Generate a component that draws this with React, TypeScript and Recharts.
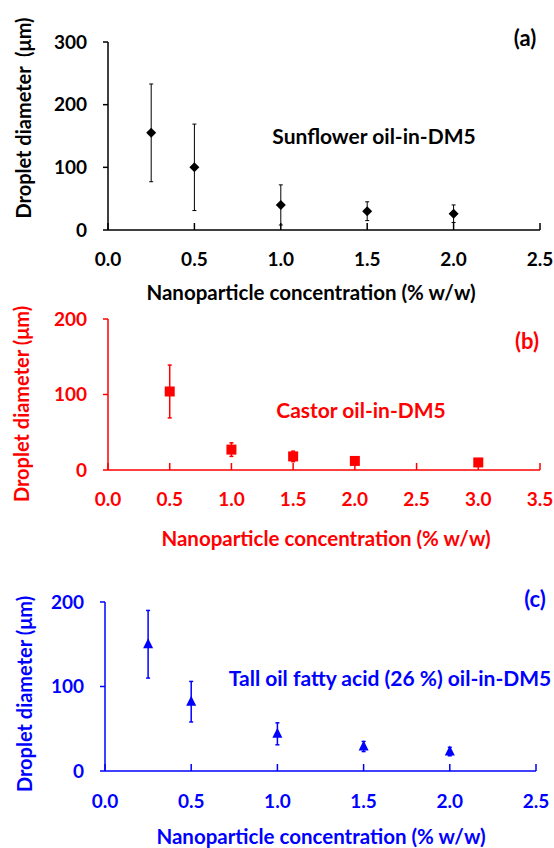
import { ScatterChart, Scatter, XAxis, YAxis, ErrorBar } from 'recharts';

// (a) sunflower oil-in-DM5
const concA = [0.25, 0.5, 1.0, 1.5, 2.0];
const diamA = [155, 100, 40, 30, 26];
const errA = [78, 69, 32, 15, 14];

// (b) castor oil-in-DM5
const concB = [0.5, 1.0, 1.5, 2.0, 3.0];
const diamB = [104, 27, 18, 12, 10];
const errB = [35, 9, 7, 3, 2];

// (c) tall oil fatty acid oil-in-DM5
const concC = [0.25, 0.5, 1.0, 1.5, 2.0];
const diamC = [150, 82, 44, 29, 23];
const errC = [40, 24, 13, 6, 5];

const xTicksA = [0, 0.5, 1.0, 1.5, 2.0, 2.5];
const xTicksB = [0, 0.5, 1.0, 1.5, 2.0, 2.5, 3.0, 3.5];
const yTicksA = [0, 100, 200, 300];
const yTicksBC = [0, 100, 200];

const FONT = 'Lato, "Open Sans", sans-serif';

type Shape = 'diamond' | 'square' | 'triangle';

function marker(kind: Shape, color: string) {
  return (p: any) => {
    const { cx, cy } = p;
    if (kind === 'square') return <rect x={cx - 5} y={cy - 5} width={10} height={10} fill={color} />;
    if (kind === 'triangle')
      return <polygon points={`${cx},${cy - 6} ${cx + 5},${cy + 4} ${cx - 5},${cy + 4}`} fill={color} />;
    return <polygon points={`${cx},${cy - 5} ${cx + 5},${cy} ${cx},${cy + 5} ${cx - 5},${cy}`} fill={color} />;
  };
}

interface PanelProps {
  top: number;
  height: number;
  margin: { top: number; right: number; bottom: number; left: number };
  yWidth: number;
  conc: number[];
  diam: number[];
  err: number[];
  color: string;
  errWidth: number;
  shape: Shape;
  xTicks: number[];
  yTicks: number[];
  yTitle: string;
  yTitlePos: [number, number];
  xTitlePos: [number, number];
  tickLabelGap: number;
  tag: string;
  tagPos: [number, number];
  note: string;
  notePos: [number, number];
}

function Panel(p: PanelProps) {
  const data = p.conc.map((c, i) => ({ conc: c, diam: p.diam[i], err: p.err[i] }));
  const txt = { fill: p.color, fontSize: 19, fontWeight: 700, fontFamily: FONT };
  const [ytx, yty] = p.yTitlePos;

  const xTick = (t: any) => (
    <g>
      <line x1={t.x} x2={t.x} y1={t.y - 7} y2={t.y} stroke={p.color} strokeWidth={1.5} />
      <text x={t.x} y={t.y + p.tickLabelGap} textAnchor="middle" dominantBaseline="central" {...txt}>
        {Number(t.payload.value).toFixed(1)}
      </text>
    </g>
  );

  return (
    <div style={{ position: 'absolute', left: 0, top: p.top, width: 554, height: p.height }}>
      <ScatterChart width={554} height={p.height} margin={p.margin}>
        <XAxis
          type="number"
          dataKey="conc"
          domain={[p.xTicks[0], p.xTicks[p.xTicks.length - 1]]}
          ticks={p.xTicks}
          interval={0}
          height={40}
          tickSize={0}
          tickMargin={0}
          tickLine={false}
          tick={xTick}
          axisLine={{ stroke: p.color, strokeWidth: 1.5 }}
          label={() => (
            <text x={p.xTitlePos[0]} y={p.xTitlePos[1]} textAnchor="middle" dominantBaseline="central" {...txt} fontSize={20.5}>
              Nanoparticle concentration (% w/w)
            </text>
          )}
        />
        <YAxis
          type="number"
          dataKey="diam"
          domain={[p.yTicks[0], p.yTicks[p.yTicks.length - 1]]}
          ticks={p.yTicks}
          interval={0}
          width={p.yWidth}
          tickSize={5}
          tickMargin={16}
          tick={txt}
          tickLine={{ stroke: p.color, strokeWidth: 1.5 }}
          axisLine={{ stroke: p.color, strokeWidth: 1.5 }}
          label={() => (
            <text
              x={ytx}
              y={yty}
              textAnchor="middle"
              dominantBaseline="central"
              transform={`rotate(-90 ${ytx} ${yty})`}
              {...txt}
              fontSize={20}
              style={{ whiteSpace: 'pre' }}
            >
              {p.yTitle}
            </text>
          )}
        />
        <Scatter data={data} shape={marker(p.shape, p.color)} isAnimationActive={false}>
          <ErrorBar dataKey="err" direction="y" width={2} stroke={p.color} strokeWidth={p.errWidth} isAnimationActive={false} />
        </Scatter>
      </ScatterChart>
      <div
        style={{
          position: 'absolute', left: p.tagPos[0], top: p.tagPos[1], transform: 'translate(-50%, -50%)',
          color: p.color, fontFamily: FONT, fontWeight: 700, fontSize: 22, whiteSpace: 'nowrap',
        }}
      >
        {p.tag}
      </div>
      <div
        style={{
          position: 'absolute', left: p.notePos[0], top: p.notePos[1], transform: 'translate(-50%, -50%)',
          color: p.color, fontFamily: FONT, fontWeight: 700, fontSize: 21, whiteSpace: 'nowrap',
        }}
      >
        {p.note}
      </div>
    </div>
  );
}

export default function App() {
  return (
    <div style={{ position: 'absolute', left: 0, top: 0, width: 554, height: 848, background: '#fff', overflow: 'hidden' }}>
      <Panel
        top={0} height={310} margin={{ top: 42, right: 14, bottom: 40, left: 0 }} yWidth={108}
        conc={concA} diam={diamA} err={errA} color="#000000" errWidth={1} shape="diamond"
        xTicks={xTicksA} yTicks={yTicksA}
        yTitle={'Droplet diameter  (\u03bcm)'} yTitlePos={[23, 118]} xTitlePos={[311, 292]} tickLabelGap={28}
        tag="(a)" tagPos={[525, 37]} note="Sunflower oil-in-DM5" notePos={[374, 135]}
      />
      <Panel
        top={290} height={270} margin={{ top: 29, right: 14, bottom: 50, left: 0 }} yWidth={108}
        conc={concB} diam={diamB} err={errB} color="#ff0000" errWidth={1.5} shape="square"
        xTicks={xTicksB} yTicks={yTicksBC}
        yTitle={'Droplet diameter (\u03bcm)'} yTitlePos={[21, 114]} xTitlePos={[326, 248]} tickLabelGap={28}
        tag="(b)" tagPos={[527, 50]} note="Castor oil-in-DM5" notePos={[361, 119]}
      />
      <Panel
        top={570} height={290} margin={{ top: 32, right: 18, bottom: 49, left: 0 }} yWidth={105}
        conc={concC} diam={diamC} err={errC} color="#0000ff" errWidth={1.5} shape="triangle"
        xTicks={xTicksA} yTicks={yTicksBC}
        yTitle={'Droplet diameter (\u03bcm)'} yTitlePos={[24, 124]} xTitlePos={[321, 266]} tickLabelGap={29}
        tag="(c)" tagPos={[535, 28]} note="Tall oil fatty acid (26 %) oil-in-DM5" notePos={[390, 107]}
      />
    </div>
  );
}
